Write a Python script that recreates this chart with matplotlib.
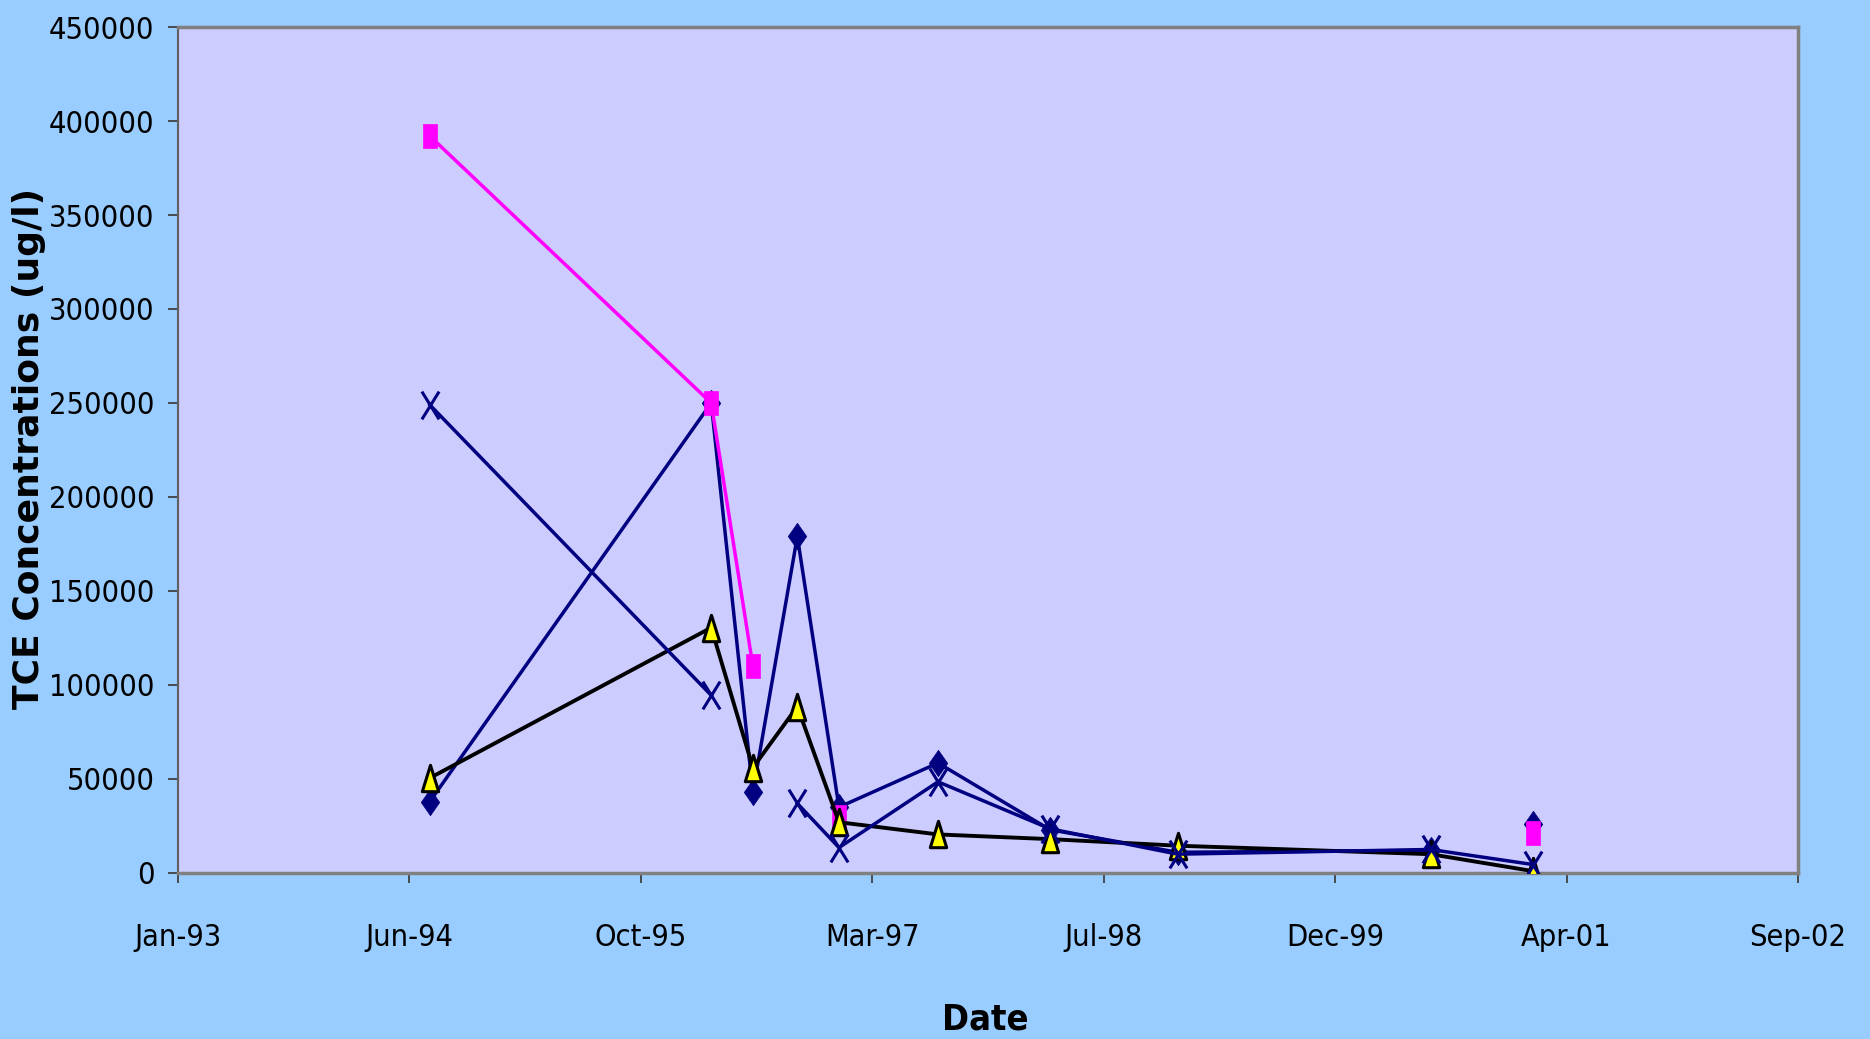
import datetime as dt
import numpy as np
import matplotlib
matplotlib.use("Agg")
import matplotlib.pyplot as plt
import matplotlib.dates as mdates
from matplotlib.path import Path
from matplotlib import font_manager

# ---- data -------------------------------------------------------------
sample_dates = ["1994-07-29", "1996-03-28", "1996-06-26", "1996-09-30",
                "1996-12-29", "1997-07-31", "1998-03-30", "1998-12-31",
                "2000-06-29", "2001-02-05", "2001-02-05"]
nan = np.nan
well_diamond = [38000, 250000, 43000, 179000, 35000, 58500, 23000, 11000, 12000, nan, 26000]
well_square = [392000, 250000, 110000, nan, 30000, nan, nan, nan, nan, nan, 21500]
well_triangle = [50500, 130500, 56000, 88500, 27000, 20500, 18000, 14500, 10000, 1000, nan]
well_cross = [249000, 94500, nan, 37000, 13500, 48500, 23500, 10000, 12500, 4500, nan]

xtick_serials = [34000, 34500, 35000, 35500, 36000, 36500, 37000, 37500]
ytick_values = [0, 50000, 100000, 150000, 200000, 250000, 300000, 350000, 400000, 450000]

# ---- fonts: prefer a narrow sans for the axis text --------------------
def find_font(patterns):
    for pat in patterns:
        for f in font_manager.fontManager.ttflist:
            if pat.lower() in f.fname.lower().replace(" ", ""):
                return f.fname
    return None


narrow_reg = find_font(["LiberationSansNarrow-Regular", "DejaVuSansCondensed.ttf",
                        "RobotoCondensed-Regular", "OpenSans_Condensed-Regular",
                        "OpenSansCondensed-Regular"])
narrow_bold = find_font(["LiberationSansNarrow-Bold.", "DejaVuSansCondensed-Bold.ttf",
                         "RobotoCondensed-Bold", "OpenSans_Condensed-Bold",
                         "OpenSansCondensed-Bold"])


def tick_font(size, bold=False):
    path = narrow_bold if bold else narrow_reg
    if path:
        return font_manager.FontProperties(fname=path, size=size)
    return font_manager.FontProperties(family="Liberation Sans", size=size,
                                       weight="bold" if bold else "normal")


def serial_to_date(s):
    return dt.datetime(1899, 12, 30) + dt.timedelta(days=s)


dates = [dt.datetime.strptime(d, "%Y-%m-%d") for d in sample_dates]

# tall marker shapes
tall_square = Path([(-0.62, -1), (0.62, -1), (0.62, 1), (-0.62, 1), (-0.62, -1)],
                   [Path.MOVETO, Path.LINETO, Path.LINETO, Path.LINETO, Path.CLOSEPOLY])
tall_diamond = Path([(0, 1), (0.7, 0), (0, -1), (-0.7, 0), (0, 1)],
                    [Path.MOVETO, Path.LINETO, Path.LINETO, Path.LINETO, Path.CLOSEPOLY])
tall_triangle = Path([(0, 1), (0.62, -1), (-0.62, -1), (0, 1)],
                     [Path.MOVETO, Path.LINETO, Path.LINETO, Path.CLOSEPOLY])
tall_cross = Path([(-0.62, -1), (0.62, 1), (-0.62, 1), (0.62, -1)],
                  [Path.MOVETO, Path.LINETO, Path.MOVETO, Path.LINETO])

fig = plt.figure(figsize=(18.7, 10.39), dpi=100)
fig.patch.set_facecolor("#99CCFF")
ax = fig.add_axes([0.0952, 0.1598, 0.8663, 0.8142])
ax.set_facecolor("#CCCCFF")

navy = "#000080"
lw = 2.5

ax.plot(dates, well_diamond, color=navy, lw=lw, marker=tall_diamond, ms=19,
        mfc=navy, mec=navy, mew=0.5, zorder=3)
ax.plot(dates, well_square, color="#FF00FF", lw=lw, marker=tall_square, ms=17,
        mfc="#FF00FF", mec="#FF00FF", mew=0.5, zorder=4)
ax.plot(dates, well_triangle, color="black", lw=lw + 0.3, marker=tall_triangle, ms=19,
        mfc="#FFFF00", mec="black", mew=2.2, zorder=5)
ax.plot(dates, well_cross, color=navy, lw=lw, marker=tall_cross, ms=20,
        mfc="none", mec=navy, mew=2.2, zorder=6)

ax.set_xlim(serial_to_date(xtick_serials[0]), serial_to_date(xtick_serials[-1]))
ax.set_ylim(ytick_values[0], ytick_values[-1])
ax.set_xticks([serial_to_date(s) for s in xtick_serials])
ax.xaxis.set_major_formatter(mdates.DateFormatter("%b-%y"))
ax.set_yticks(ytick_values)

for side in ["top", "right", "left", "bottom"]:
    ax.spines[side].set_color("#808080")
    ax.spines[side].set_linewidth(2.5)
ax.spines["left"].set_color("#606060")
ax.spines["left"].set_linewidth(1.5)

ax.tick_params(axis="both", direction="out", length=7, width=1.3, color="#404040",
               labelcolor="black")
ax.tick_params(axis="x", pad=29)
ax.tick_params(axis="y", pad=10)

size = 22 if narrow_reg else 20
for lab in ax.get_xticklabels() + ax.get_yticklabels():
    lab.set_fontproperties(tick_font(size))

fig.text(0.527, 0.019, "Date", ha="center", va="center",
         fontproperties=tick_font(26, bold=True))
fig.text(0.0155, 0.568, "TCE Concentrations (ug/l)", rotation=90, ha="center",
         va="center", fontsize=26, fontweight="bold", family=["DejaVu Sans"])

fig.savefig("out.png", dpi=100, facecolor=fig.get_facecolor())
